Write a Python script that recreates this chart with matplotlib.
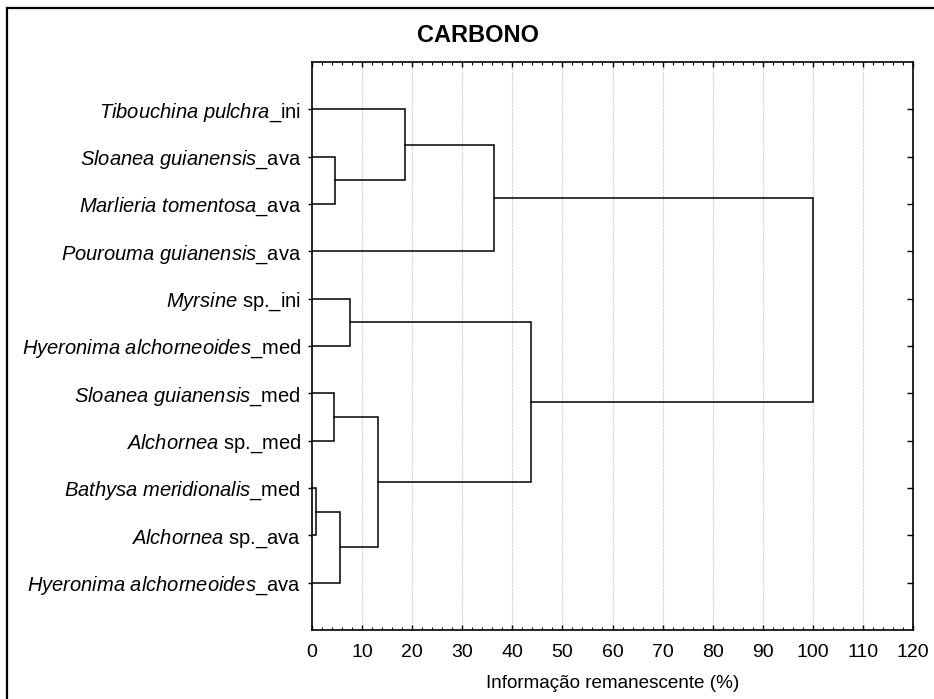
import numpy as np
import matplotlib
matplotlib.use("Agg")
import matplotlib.pyplot as plt
from matplotlib.lines import Line2D

plt.rcParams['font.family'] = ['Liberation Sans', 'DejaVu Sans']
plt.rcParams['mathtext.fontset'] = 'custom'
plt.rcParams['mathtext.it'] = 'Liberation Sans:italic'
plt.rcParams['mathtext.rm'] = 'Liberation Sans'

# folhas (de cima para baixo): nome da espécie (itálico) + sufixo
especies = ["Tibouchina pulchra", "Sloanea guianensis", "Marlieria tomentosa",
            "Pourouma guianensis", "Myrsine", "Hyeronima alchorneoides",
            "Sloanea guianensis", "Alchornea", "Bathysa meridionalis",
            "Alchornea", "Hyeronima alchorneoides"]
sufixos = ["_ini", "_ava", "_ava", "_ava", " sp._ini", "_med",
           "_med", " sp._med", "_med", " sp._ava", "_ava"]

# fusões: (filho a, filho b, distância %) ; nós novos numerados a partir de 11
fus_a = [1, 0, 12, 4, 6, 8, 16, 15, 14, 13]
fus_b = [2, 11, 3, 5, 7, 9, 10, 17, 18, 19]
altura = [4.5, 18.6, 36.3, 7.6, 4.3, 0.8, 5.6, 13.1, 43.7, 100.0]

n = len(especies)
pos_y = {i: i + 1.0 for i in range(n)}
pos_x = {i: 0.0 for i in range(n)}

fig = plt.figure(figsize=(9.34, 6.99), dpi=100)
ax = fig.add_axes([312/934, 1-630/699, (913-312)/934, (630-62)/699])

for k, (a, b, h) in enumerate(zip(fus_a, fus_b, altura)):
    no = n + k
    ya, yb = pos_y[a], pos_y[b]
    ax.plot([pos_x[a], h, h, pos_x[b]], [ya, ya, yb, yb], color='black', lw=1.1,
            solid_joinstyle='miter', zorder=3)
    pos_y[no] = (ya + yb) / 2
    pos_x[no] = h

ax.set_xlim(0, 120)
ax.set_ylim(12, 0)
ax.set_xticks(np.arange(0, 121, 10))
ax.set_xticks(np.arange(0, 121, 2), minor=True)
ax.set_yticks(np.arange(1, n + 1))
rotulos = []
for e, s in zip(especies, sufixos):
    rotulos.append(r"$\mathit{" + e.replace(" ", r"\ ") + "}$" + s)
ax.set_yticklabels(rotulos, fontsize=14.5)
ax.tick_params(axis='x', which='major', direction='in', length=3.5, width=1,
               top=True, labelsize=14, pad=10)
ax.tick_params(axis='x', which='minor', direction='in', length=2, width=0.8, top=True)
ax.tick_params(axis='y', which='major', direction='out', length=3, width=1, pad=5,
               right=True)
for t in ax.yaxis.get_major_ticks():
    t.tick2line.set_marker(matplotlib.lines.TICKLEFT)
    t.tick2line.set_markersize(4)

for xv in range(10, 111, 10):
    ax.axvline(xv, color='#d0d0d0', lw=0.8, ls=(0, (2, 1)), zorder=1)

for sp in ax.spines.values():
    sp.set_linewidth(1.2)

ax.set_xlabel("Informação remanescente (%)", fontsize=13.6, labelpad=10)

fig.text(478/934, 1-35/699, "CARBONO", fontsize=17, fontweight='bold',
         ha='center', va='center')

# moldura externa
fig.add_artist(Line2D([7/934, 7/934], [0, 1-8/699], color='black', lw=1.6,
                      transform=fig.transFigure))
fig.add_artist(Line2D([7/934, 1], [1-8/699, 1-8/699], color='black', lw=1.6,
                      transform=fig.transFigure))

fig.savefig("out.png", dpi=100)
